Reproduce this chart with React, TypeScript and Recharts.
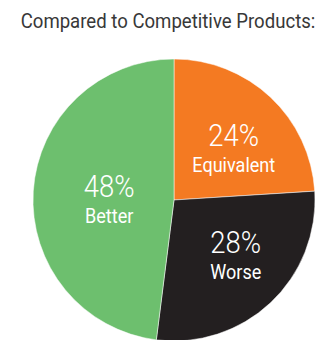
import React from 'react';
import { PieChart, Pie, Cell } from 'recharts';

const categories = ['Equivalent', 'Worse', 'Better'];
const values = [24, 28, 48];
const colors = ['#F47A22', '#231F20', '#6DBF6E'];
const title = 'Compared to Competitive Products:';

const data = categories.map((name, i) => ({ name, value: values[i] }));

const labelNudge: Record<string, [number, number]> = {
  Equivalent: [5, 6],
  Worse: [7, -3],
  Better: [15, 4],
};

const FONT = "Roboto, 'Liberation Sans', Arial, sans-serif";
const RAD = Math.PI / 180;
const SX = 0.86;

const renderLabel = (props: any) => {
  const { cx, cy, midAngle, name, value } = props;
  const r = 80;
  const nudge = labelNudge[name] || [0, 0];
  const x = cx + r * Math.cos(-midAngle * RAD) + nudge[0];
  const y = cy + r * Math.sin(-midAngle * RAD) + nudge[1];
  return (
    <g transform={`translate(${x},${y}) scale(${SX},1)`}>
      <text x={0} y={-2} textAnchor="middle" fill="#fff" fontFamily={FONT} fontSize={32} fontWeight={300}>
        {`${value}%`}
      </text>
      <text x={0} y={24} textAnchor="middle" fill="#fff" fontFamily={FONT} fontSize={21}>
        {name}
      </text>
    </g>
  );
};

export default function App() {
  return (
    <div style={{ position: 'absolute', left: 0, top: 0, width: 322, height: 340, background: '#fff', overflow: 'hidden' }}>
      <div style={{ position: 'absolute', left: 0, top: 0 }}>
        <PieChart width={322} height={340} margin={{ top: 0, right: 0, bottom: 0, left: 0 }}>
          <Pie
            data={data}
            dataKey="value"
            nameKey="name"
            cx={174}
            cy={200}
            innerRadius={0}
            outerRadius={141}
            startAngle={90}
            endAngle={-270}
            stroke="#fff"
            strokeWidth={0.5}
            label={renderLabel}
            labelLine={false}
            isAnimationActive={false}
          >
            {data.map((d, i) => (
              <Cell key={d.name} fill={colors[i]} />
            ))}
          </Pie>
        </PieChart>
      </div>
      <svg width={322} height={340} style={{ position: 'absolute', left: 0, top: 0, pointerEvents: 'none' }}>
        <g transform="translate(168,28) scale(0.93,1)">
          <text x={0} y={0} textAnchor="middle" fill="#383838" fontFamily={FONT} fontSize={20}>
            {title}
          </text>
        </g>
      </svg>
    </div>
  );
}
